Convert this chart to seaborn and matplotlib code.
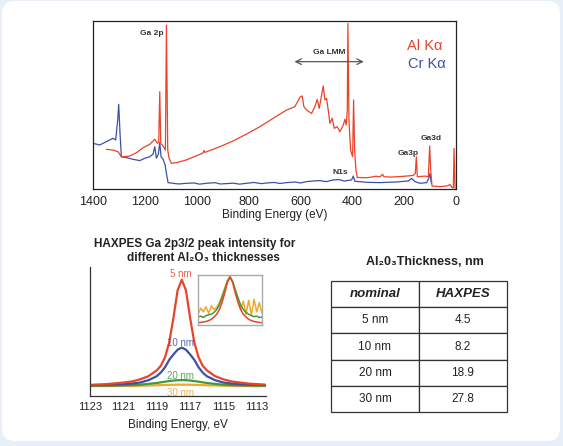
import pandas as pd
import seaborn as sns
import matplotlib.pyplot as plt
from matplotlib.patches import FancyBboxPatch

# ---- survey spectra (top panel): binding energy (eV) / intensity (a.u.)
al_energy = [1348.5, 1322.8, 1303.5, 1290.6, 1258.5, 1232.7, 1207.0, 1181.2, 1161.9, 1151.6,
             1146.5, 1142.6, 1138.8, 1129.8, 1120.8, 1116.9, 1111.8, 1106.6, 1097.6, 1078.3,
             1039.7, 1001.1, 975.0, 972.0, 968.0, 911.0, 859.5, 808.1, 756.6, 705.1, 653.7, 621.5,
             602.2, 593.2, 586.8, 576.4, 557.1, 544.3, 535.3, 527.5, 517.3, 512.1,
             505.7, 499.2, 492.8, 486.4, 477.4, 469.6, 458.0, 447.8, 434.9, 428.5,
             423.3, 419.4, 416.9, 413.0, 406.6, 398.9, 395.0, 391.1, 386.0, 380.9,
             344.8, 330.0, 310.0, 293.4, 283.1, 278.0, 250.0, 229.0, 200.0,
             177.5, 164.7, 157.0, 153.1, 149.2,
             119.6, 106.8, 101.6, 97.7, 92.6, 61.7, 36.0, 23.1, 15.4, 10.3, 7.7, 3.9]
al_counts = [23.6, 23.2, 22.2, 19.2, 19.6, 21.6, 24.6, 26.6, 29.6, 27.2,
             28.2, 57.9, 27.2, 25.6, 23.2, 97.6, 23.2, 18.3, 15.3, 15.7,
             17.3, 19.8, 21.5, 23.0, 21.8, 25.2, 28.6, 32.7, 37.1, 42.1, 47.0, 49.0,
             54.6, 55.4, 49.0, 47.0, 45.0, 49.0, 53.4, 48.0, 56.9, 61.3,
             53.0, 54.0, 47.0, 39.1, 42.1, 36.1, 37.1, 34.1, 38.1, 41.5,
             38.1, 47.0, 98.6, 41.1, 23.2, 19.2, 53.0, 23.2, 11.3, 6.9,
             6.7, 7.0, 7.6, 7.3, 8.7, 7.3, 7.1, 7.3, 7.6,
             7.9, 8.1, 9.3, 19.2, 7.3,
             7.7, 7.3, 25.6, 11.3, 1.8, 1.4, 1.8, 2.6, 0.8, 0.8, 24.2, 0.4]

cr_energy = [1400.0, 1374.3, 1348.5, 1322.8, 1312.5, 1304.8, 1300.9, 1295.8, 1290.6, 1271.3,
             1245.6, 1219.8, 1200.5, 1181.2, 1168.4, 1161.9, 1155.5, 1147.8, 1142.6, 1137.5,
             1129.8, 1122.0, 1116.9, 1110.5, 1091.2, 1070.0, 1039.7, 1010.0, 990.0, 962.5,
             930.0, 910.0, 885.3, 860.0, 835.0, 808.1, 780.0, 750.0, 730.9, 700.0,
             680.0, 653.7, 620.0, 600.0, 576.4, 550.0, 525.0, 500.0, 473.5, 450.0,
             430.0, 421.9, 402.7, 396.3, 389.9, 344.8, 293.4,
             229.0, 184.0, 171.1, 158.3, 138.9, 113.2, 105.5, 100.3, 95.2]
cr_counts = [27.2, 26.2, 28.2, 30.2, 29.2, 41.1, 50.4, 33.1, 19.2, 18.7,
             17.7, 16.9, 18.3, 19.2, 20.8, 25.2, 18.3, 20.8, 27.6, 19.2,
             17.7, 14.3, 9.3, 3.8, 3.4, 3.0, 3.4, 3.6, 2.9, 3.4,
             3.8, 3.0, 3.2, 3.5, 2.9, 3.4, 3.9, 3.2, 3.6, 3.9,
             3.3, 3.8, 4.2, 3.6, 4.4, 4.8, 5.0, 4.4, 5.4, 5.6,
             4.7, 5.0, 5.4, 7.7, 4.6, 4.0, 3.8,
             4.2, 4.8, 6.3, 4.4, 3.4, 3.8, 6.3, 9.3, 3.4]

# ---- HAXPES Ga 2p3/2 peaks (bottom left)
hax_energy = [1123.0, 1122.0, 1121.0, 1120.5, 1120.0, 1119.5, 1119.0, 1118.75, 1118.5, 1118.25,
              1118.0, 1117.75, 1117.5, 1117.25, 1117.0, 1116.75, 1116.5, 1116.25, 1116.0, 1115.5,
              1115.0, 1114.5, 1114.0, 1113.5, 1113.0, 1112.5]
nm5 = [0.8, 1.5, 3.0, 4.0, 6.0, 9.0, 14.5, 19.0, 27.0, 41.0,
       64.0, 90.0, 100.0, 90.0, 64.0, 41.0, 27.0, 19.0, 14.5, 9.0,
       6.0, 4.0, 3.0, 2.0, 1.5, 1.0]
nm10 = [0.5, 0.8, 1.4, 2.0, 3.0, 5.2, 9.0, 12.5, 17.5, 24.5,
        29.5, 34.0, 36.0, 34.0, 29.5, 24.5, 17.5, 12.5, 9.0, 5.2,
        3.0, 2.0, 1.4, 1.0, 0.8, 0.6]
nm20 = [0.0, 0.1, 0.35, 0.6, 1.0, 1.7, 2.6, 3.2, 3.8, 4.4,
        4.9, 5.2, 5.3, 5.2, 4.9, 4.4, 3.8, 3.2, 2.6, 1.7,
        1.0, 0.6, 0.35, 0.2, 0.1, 0.05]
nm30 = [-0.4, -0.4, -0.3, -0.2, 0.0, 0.2, 0.4, 0.55, 0.7, 0.8,
        0.9, 1.0, 1.0, 1.0, 0.9, 0.8, 0.7, 0.55, 0.4, 0.2,
        0.0, -0.2, -0.3, -0.4, -0.4, -0.4]

# inset: normalised peaks
ins_energy = [1120.5, 1120.25, 1120.0, 1119.75, 1119.5, 1119.25, 1119.0, 1118.75, 1118.5, 1118.25,
              1118.0, 1117.75, 1117.5, 1117.25, 1117.0, 1116.75, 1116.5, 1116.25, 1116.0, 1115.75,
              1115.5, 1115.25, 1115.0, 1114.75, 1114.5]
ins_5 = [0.02, 0.025, 0.035, 0.045, 0.065, 0.09, 0.14, 0.2, 0.3, 0.45,
         0.65, 0.88, 1.0, 0.88, 0.65, 0.45, 0.3, 0.2, 0.14, 0.09,
         0.065, 0.045, 0.035, 0.025, 0.02]
ins_20 = [0.14, 0.16, 0.13, 0.17, 0.19, 0.2, 0.24, 0.3, 0.4, 0.55,
          0.72, 0.9, 1.0, 0.9, 0.72, 0.55, 0.4, 0.3, 0.24, 0.2,
          0.17, 0.15, 0.16, 0.13, 0.14]
ins_30 = [0.2, 0.33, 0.25, 0.36, 0.22, 0.38, 0.3, 0.35, 0.45, 0.6,
          0.76, 0.92, 1.0, 0.9, 0.7, 0.52, 0.3, 0.48, 0.2, 0.5,
          0.18, 0.52, 0.25, 0.45, 0.22]

# ---- table
nominal = ["5 nm", "10 nm", "20 nm", "30 nm"]
haxpes = ["4.5", "8.2", "18.9", "27.8"]

RED = "#e9432b"
BLUE = "#3d50a8"
GREEN = "#3f9a3c"
ORANGE = "#f2a72a"

sns.set_style("white")
sans = ["Liberation Sans", "DejaVu Sans"]
plt.rcParams["font.family"] = sans

fig = plt.figure(figsize=(5.63, 4.46), dpi=100)
fig.patch.set_facecolor("#e8eff8")
card = FancyBboxPatch((0.02, 0.05), 5.58, 4.40, boxstyle="round,pad=0,rounding_size=0.13",
                      transform=fig.dpi_scale_trans, facecolor="white", edgecolor="none", zorder=-5)
fig.patches.append(card)

# ---------------- top survey panel
ax1 = fig.add_axes([0.1652, 0.5762, 0.6448, 0.3767])
survey = pd.concat([
    pd.DataFrame({"energy": cr_energy, "counts": cr_counts, "source": "Cr Ka"}),
    pd.DataFrame({"energy": al_energy, "counts": al_counts, "source": "Al Ka"}),
])
sns.lineplot(data=survey, x="energy", y="counts", hue="source", estimator=None,
             palette={"Al Ka": RED, "Cr Ka": BLUE}, linewidth=0.9, legend=False, ax=ax1)
ax1.set_xlim(1400, 0)
ax1.set_ylim(0, 100)
ax1.set_xticks([1400, 1200, 1000, 800, 600, 400, 200, 0])
ax1.set_yticks([])
ax1.tick_params(axis="x", direction="in", length=3, labelsize=9, pad=5, colors="#222222")
ax1.set_xlabel("Binding Energy (eV)", fontsize=8.5, labelpad=1, color="#222222")
ax1.set_ylabel("")
for s in ax1.spines.values():
    s.set_color("#222222")
    s.set_linewidth(0.9)

lab = dict(fontsize=6, fontweight="bold", color="#333333", ha="center", va="center")
ax1.text(1175, 92.7, "Ga 2p", **lab)
ax1.text(490, 81, "Ga LMM", **lab)
ax1.text(448, 9.7, "N1s", **lab)
ax1.text(184, 21, "Ga3p", **lab)
ax1.text(95, 30, "Ga3d", **lab)
ax1.annotate("", xy=(345, 75.8), xytext=(634, 75.8),
             arrowprops=dict(arrowstyle="<->", color="#555555", lw=0.9))
ax1.text(120, 85, "Al K\u03b1", fontsize=10.5, color=RED, ha="center", va="center")
ax1.text(114, 74.2, "Cr K\u03b1", fontsize=10.5, color=BLUE, ha="center", va="center")

# ---------------- HAXPES panel
ax2 = fig.add_axes([0.1599, 0.1121, 0.3126, 0.2892])
ax2.patch.set_alpha(0)
hax = pd.concat([
    pd.DataFrame({"energy": hax_energy, "intensity": nm30, "thk": "30 nm"}),
    pd.DataFrame({"energy": hax_energy, "intensity": nm20, "thk": "20 nm"}),
    pd.DataFrame({"energy": hax_energy, "intensity": nm10, "thk": "10 nm"}),
    pd.DataFrame({"energy": hax_energy, "intensity": nm5, "thk": "5 nm"}),
])
pal = {"5 nm": RED, "10 nm": BLUE, "20 nm": GREEN, "30 nm": ORANGE}
sns.lineplot(data=hax, x="energy", y="intensity", hue="thk", estimator=None,
             palette=pal, linewidth=1.6, legend=False, ax=ax2)
ax2.set_xlim(1123.0, 1112.45)
ax2.set_ylim(-9.7, 112)
ax2.set_xticks([1123, 1121, 1119, 1117, 1115, 1113])
ax2.set_xticks(range(1113, 1124), minor=True)
ax2.set_yticks([])
ax2.tick_params(axis="x", which="both", direction="in", length=2.5, labelsize=8, pad=4,
                colors="#222222")
ax2.set_xlabel("Binding Energy, eV", fontsize=8.5, labelpad=5, color="#222222")
ax2.set_ylabel("")
sns.despine(ax=ax2)
for s in ["left", "bottom"]:
    ax2.spines[s].set_color("#333333")
    ax2.spines[s].set_linewidth(0.9)

peak_lab = dict(fontsize=7, ha="center", va="center", alpha=0.85)
ax2.text(1117.55, 105, "5 nm", color=RED, **peak_lab)
ax2.text(1117.55, 40.5, "10 nm", color=BLUE, **peak_lab)
ax2.text(1117.55, 9.4, "20 nm", color=GREEN, **peak_lab)
ax2.text(1117.55, -7.2, "30 nm", color=ORANGE, **peak_lab)

# inset with normalised peaks
ax3 = fig.add_axes([0.3517, 0.2713, 0.1137, 0.1121])
ins = pd.concat([
    pd.DataFrame({"energy": ins_energy, "norm": ins_30, "thk": "30 nm"}),
    pd.DataFrame({"energy": ins_energy, "norm": ins_20, "thk": "20 nm"}),
    pd.DataFrame({"energy": ins_energy, "norm": ins_5, "thk": "5 nm"}),
])
sns.lineplot(data=ins, x="energy", y="norm", hue="thk", estimator=None,
             palette=pal, linewidth=1.1, legend=False, ax=ax3)
ax3.set_xlim(1120.5, 1114.5)
ax3.set_ylim(-0.03, 1.04)
ax3.set_xticks([])
ax3.set_yticks([])
ax3.set_xlabel("")
ax3.set_ylabel("")
for s in ax3.spines.values():
    s.set_color("#aaaaaa")
    s.set_linewidth(1.0)

fig.text(0.345, 0.453, "HAXPES Ga 2p3/2 peak intensity for", fontsize=8.5, fontweight="bold",
         ha="center", va="center", color="#222222")
fig.text(0.362, 0.421, "different Al\u2082O\u2083 thicknesses", fontsize=8.5, fontweight="bold",
         ha="center", va="center", color="#222222")

# ---------------- table
fig.text(0.755, 0.4126, "Al\u20820\u2083Thickness, nm", fontsize=9, fontweight="bold",
         ha="center", va="center", color="#222222")
ax4 = fig.add_axes([0.5879, 0.0762, 0.3126, 0.2937])
ax4.axis("off")
tbl = ax4.table(cellText=[[a, b] for a, b in zip(nominal, haxpes)],
                colLabels=["nominal", "HAXPES"], cellLoc="center", bbox=[0, 0, 1, 1])
tbl.auto_set_font_size(False)
for (r, c), cell in tbl.get_celld().items():
    cell.set_edgecolor("#333333")
    cell.set_linewidth(0.9)
    if r == 0:
        cell.get_text().set_fontproperties({"family": sans, "weight": "bold",
                                            "style": "italic", "size": 9.5})
    else:
        cell.get_text().set_fontsize(8.5)
    cell.get_text().set_color("#222222")

fig.savefig("out.png", dpi=100, facecolor=fig.get_facecolor())
